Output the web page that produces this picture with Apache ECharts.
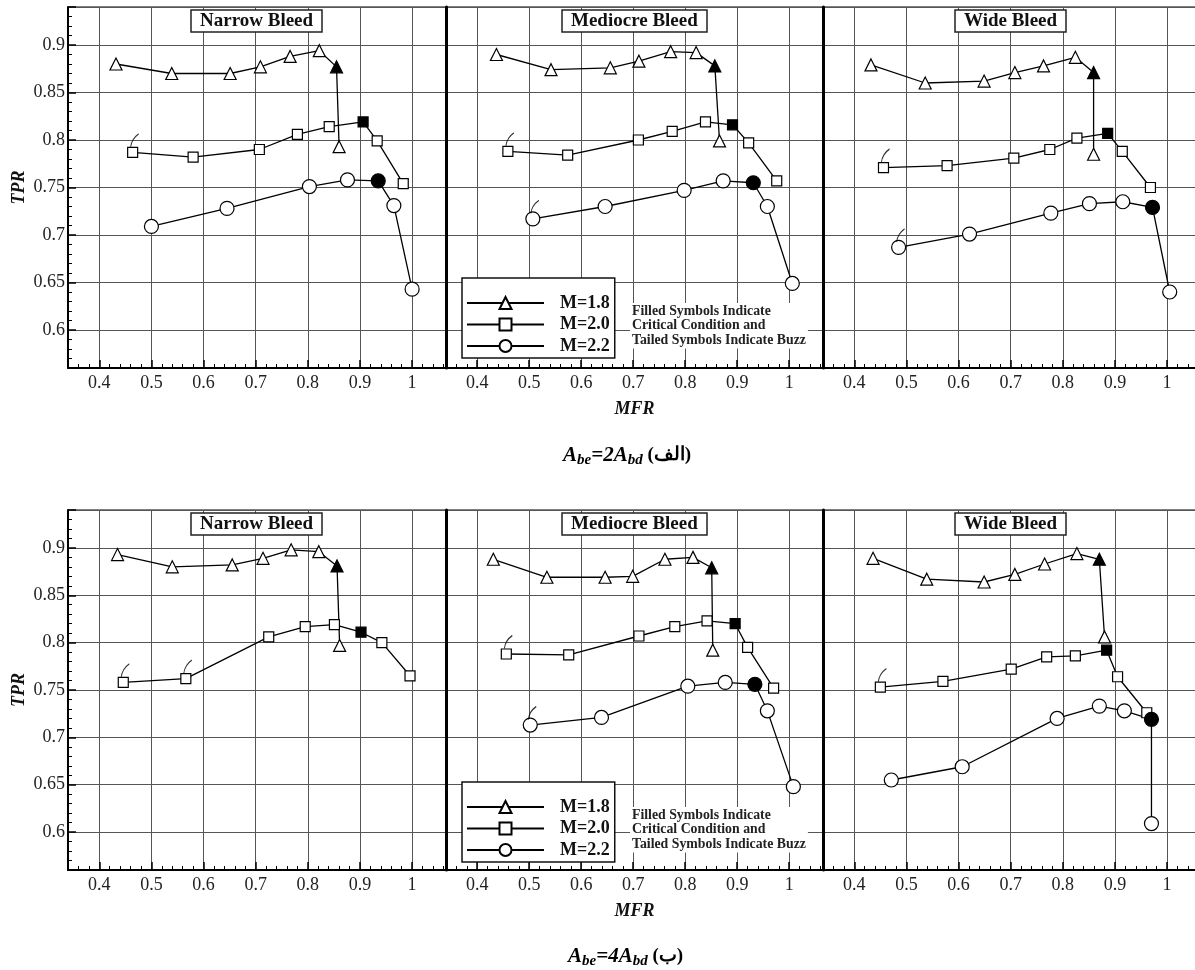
<!DOCTYPE html>
<html>
<head>
<meta charset="utf-8">
<script src="https://cdn.jsdelivr.net/npm/echarts@6.0.0/dist/echarts.min.js"></script>
<style>
  html, body { margin: 0; background: #fff; }
  #chart { width: 1195px; height: 970px; }
</style>
</head>
<body>
<div id="chart"></div>
<script>
// MFR / TPR pairs, one list per panel and Mach number
var panelTitles = ['Narrow Bleed', 'Mediocre Bleed', 'Wide Bleed'];
var machNames = ['M=1.8', 'M=2.0', 'M=2.2'];

// (الف)  Abe = 2Abd
var topNarrowM18 = [[0.432,0.880],[0.539,0.870],[0.651,0.870],[0.709,0.877],[0.766,0.888],[0.822,0.894],[0.855,0.877],[0.860,0.793]];
var topNarrowM20 = [[0.464,0.787],[0.580,0.782],[0.707,0.790],[0.780,0.806],[0.841,0.814],[0.906,0.819],[0.933,0.799],[0.983,0.754]];
var topNarrowM22 = [[0.500,0.709],[0.645,0.728],[0.803,0.751],[0.876,0.758],[0.935,0.757],[0.965,0.731],[1.000,0.643]];

var topMedM18 = [[0.437,0.890],[0.542,0.874],[0.656,0.876],[0.711,0.883],[0.772,0.893],[0.821,0.892],[0.857,0.878],[0.866,0.799]];
var topMedM20 = [[0.459,0.788],[0.574,0.784],[0.710,0.800],[0.775,0.809],[0.839,0.819],[0.891,0.816],[0.922,0.797],[0.976,0.757]];
var topMedM22 = [[0.507,0.717],[0.646,0.730],[0.798,0.747],[0.873,0.757],[0.931,0.755],[0.958,0.730],[1.006,0.649]];

var topWideM18 = [[0.432,0.879],[0.536,0.860],[0.649,0.862],[0.708,0.871],[0.763,0.878],[0.824,0.887],[0.859,0.871],[0.859,0.785]];
var topWideM20 = [[0.456,0.771],[0.578,0.773],[0.706,0.781],[0.775,0.790],[0.827,0.802],[0.886,0.807],[0.914,0.788],[0.968,0.750]];
var topWideM22 = [[0.485,0.687],[0.621,0.701],[0.777,0.723],[0.851,0.733],[0.915,0.735],[0.972,0.729],[1.005,0.640]];

// (ب)  Abe = 4Abd
var botNarrowM18 = [[0.435,0.893],[0.540,0.880],[0.655,0.882],[0.714,0.889],[0.768,0.898],[0.821,0.896],[0.856,0.881],[0.861,0.797]];
var botNarrowM20 = [[0.446,0.758],[0.566,0.762],[0.725,0.806],[0.795,0.817],[0.851,0.819],[0.902,0.811],[0.942,0.800],[0.996,0.765]];

var botMedM18 = [[0.431,0.888],[0.534,0.869],[0.646,0.869],[0.699,0.870],[0.761,0.888],[0.815,0.890],[0.851,0.879],[0.853,0.792]];
var botMedM20 = [[0.456,0.788],[0.576,0.787],[0.711,0.807],[0.780,0.817],[0.842,0.823],[0.896,0.820],[0.920,0.795],[0.970,0.752]];
var botMedM22 = [[0.502,0.713],[0.639,0.721],[0.805,0.754],[0.877,0.758],[0.934,0.756],[0.958,0.728],[1.008,0.648]];

var botWideM18 = [[0.436,0.889],[0.539,0.867],[0.649,0.864],[0.708,0.872],[0.765,0.883],[0.827,0.894],[0.870,0.888],[0.880,0.806]];
var botWideM20 = [[0.450,0.753],[0.570,0.759],[0.701,0.772],[0.769,0.785],[0.824,0.786],[0.884,0.792],[0.905,0.764],[0.961,0.726]];
var botWideM22 = [[0.471,0.655],[0.607,0.669],[0.789,0.720],[0.870,0.733],[0.918,0.728],[0.970,0.719],[0.970,0.609]];

// index of the filled (critical) point and the tailed (buzz) points, per series
var topCritical = [[6, 5, 4], [6, 5, 4], [6, 5, 5]];
var topBuzz = [[[], [0], []], [[], [0], [0]], [[], [0], [0]]];
var botCritical = [[6, 5], [6, 5, 4], [6, 5, 5]];
var botBuzz = [[[], [0, 1]], [[], [0], [0]], [[], [0], []]];

var rows = [
  { top: 7, height: 361, sets: [[topNarrowM18, topNarrowM20, topNarrowM22], [topMedM18, topMedM20, topMedM22], [topWideM18, topWideM20, topWideM22]], crit: topCritical, buzz: topBuzz },
  { top: 510, height: 360, sets: [[botNarrowM18, botNarrowM20], [botMedM18, botMedM20, botMedM22], [botWideM18, botWideM20, botWideM22]], crit: botCritical, buzz: botBuzz }
];

var colLeft = [68, 446, 823];
var colWidth = [378, 377, 378];
var titleLeft = [191, 562, 955];

var serif = 'Liberation Serif';
var symbols = ['triangle', 'rect', 'circle'];
var symbolSizes = [12, 10, 14];
var tailPath = 'path://M0,13 Q1,5 8,0';

var chart = echarts.init(document.getElementById('chart'));

var grids = [], xAxes = [], yAxes = [], series = [], titles = [];

rows.forEach(function (row, r) {
  for (var c = 0; c < 3; c++) {
    var g = r * 3 + c;
    grids.push({
      left: colLeft[c], top: row.top, width: colWidth[c], height: row.height,
      show: true, borderColor: '#000', borderWidth: 1, containLabel: false, outerBoundsMode: 'none'
    });
    xAxes.push({
      type: 'value', gridIndex: g, min: 0.34, max: 1.065, splitNumber: 7,
      axisLine: { onZero: false, lineStyle: { color: '#000', width: 2 } },
      axisTick: { inside: true, length: 8, lineStyle: { color: '#000', width: 1.5 } },
      minorTick: { show: true, splitNumber: 5, length: 4, lineStyle: { color: '#000', width: 1 } },
      splitLine: { show: true, lineStyle: { color: '#555', width: 1 } },
      axisLabel: { showMinLabel: false, showMaxLabel: false, fontFamily: serif, fontSize: 18, color: '#222', margin: 6 },
      name: c === 1 ? 'MFR' : '', nameLocation: 'middle', nameGap: 32,
      nameTextStyle: { fontFamily: serif, fontSize: 18, fontWeight: 'bold', fontStyle: 'italic', color: '#111' }
    });
    yAxes.push({
      type: 'value', gridIndex: g, min: 0.56, max: 0.94, splitNumber: 8,
      axisLine: { show: true, onZero: false, lineStyle: { color: '#000', width: c === 0 ? 2 : 3 } },
      axisTick: { show: c === 0, inside: true, length: 8, lineStyle: { color: '#000', width: 1.5 } },
      minorTick: { show: c === 0, splitNumber: 5, length: 4, lineStyle: { color: '#000', width: 1 } },
      splitLine: { show: true, lineStyle: { color: '#555', width: 1 } },
      axisLabel: { show: c === 0, showMinLabel: false, showMaxLabel: false, fontFamily: serif, fontSize: 18, color: '#222', margin: 3 },
      name: c === 0 ? 'TPR' : '', nameLocation: 'middle', nameGap: 40, nameRotate: 90,
      nameTextStyle: { fontFamily: serif, fontSize: 18, fontWeight: 'bold', fontStyle: 'italic', color: '#111' }
    });
    titles.push({
      text: panelTitles[c], left: titleLeft[c], top: row.top + 3,
      padding: [2, 9, 1, 9], backgroundColor: '#fff', borderColor: '#222', borderWidth: 1.5,
      textStyle: { fontFamily: serif, fontSize: 19, fontWeight: 'bold', color: '#111' }
    });

    row.sets[c].forEach(function (pts, m) {
      var crit = row.crit[c][m];
      series.push({
        type: 'line', name: machNames[m], xAxisIndex: g, yAxisIndex: g,
        data: pts.map(function (p, i) {
          return i === crit ? { value: p, itemStyle: { color: '#000' } } : p;
        }),
        symbol: symbols[m], symbolSize: symbolSizes[m], showAllSymbol: true,
        itemStyle: { color: '#fff', borderColor: '#000', borderWidth: 1.2 },
        lineStyle: { color: '#000', width: 1.3 },
        emphasis: { disabled: true }, z: 3
      });
      var tails = row.buzz[c][m];
      if (tails.length) {
        series.push({
          type: 'scatter', xAxisIndex: g, yAxisIndex: g,
          data: tails.map(function (i) { return pts[i]; }),
          symbol: tailPath, symbolSize: [8, 13], symbolOffset: [2, -12],
          itemStyle: { color: 'none', borderColor: '#000', borderWidth: 1.2 },
          silent: true, z: 4
        });
      }
    });
  }
});

function legendAt(top) {
  return {
    data: machNames, orient: 'vertical', left: 462, top: top,
    itemWidth: 77, itemHeight: 15, itemGap: 3.5,
    padding: [16, 5, 3, 4], backgroundColor: '#fff', borderColor: '#111', borderWidth: 1.5,
    selectedMode: false,
    textStyle: { fontFamily: serif, fontSize: 18, fontWeight: 'bold', color: '#111', lineHeight: 15, padding: [0, 0, 0, 11] }
  };
}

function noteAt(top) {
  return {
    type: 'text', left: 630, top: top, z: 10,
    style: {
      text: 'Filled Symbols Indicate\nCritical Condition and\nTailed Symbols Indicate Buzz',
      fontFamily: serif, fontSize: 13.8, fontWeight: 'bold', lineHeight: 14.5, fill: '#222',
      backgroundColor: '#fff', padding: [1, 2]
    }
  };
}

var capRich = {
  a: { fontFamily: serif, fontSize: 21, fontWeight: 'bold', fontStyle: 'italic', lineHeight: 24, verticalAlign: 'middle', color: '#111' },
  s: { fontFamily: serif, fontSize: 15, fontWeight: 'bold', fontStyle: 'italic', lineHeight: 14, verticalAlign: 'bottom', color: '#111' },
  r: { fontFamily: serif, fontSize: 19, fontWeight: 'bold', lineHeight: 24, verticalAlign: 'middle', color: '#111' }
};

chart.setOption({
  animation: false,
  backgroundColor: '#fff',
  title: titles,
  legend: [legendAt(278), legendAt(782)],
  grid: grids,
  xAxis: xAxes,
  yAxis: yAxes,
  series: series,
  graphic: [
    noteAt(303),
    noteAt(807),
    { type: 'text', left: 563, top: 445, z: 10, style: { text: '{a|A}{s|be}{a|=2A}{s|bd}{r| (الف)}', rich: capRich } },
    { type: 'text', left: 568, top: 946, z: 10, style: { text: '{a|A}{s|be}{a|=4A}{s|bd}{r| (ب)}', rich: capRich } }
  ]
});
</script>
</body>
</html>
